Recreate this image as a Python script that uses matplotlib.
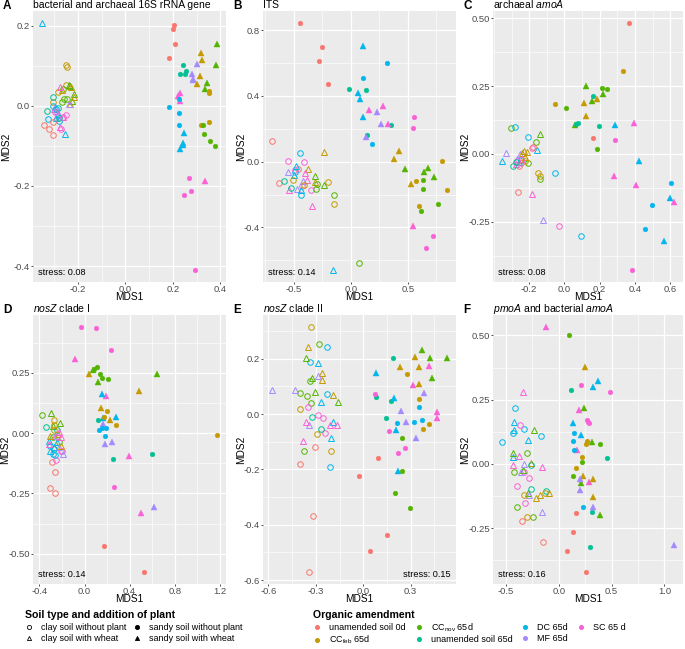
import matplotlib
matplotlib.use("Agg")
import matplotlib.pyplot as plt
from matplotlib.lines import Line2D
from matplotlib.ticker import FixedLocator, AutoMinorLocator, FormatStrFormatter

plt.rcParams['font.family'] = ['Liberation Sans', 'DejaVu Sans']
plt.rcParams['mathtext.fontset'] = 'custom'
plt.rcParams['mathtext.rm'] = 'Liberation Sans'
plt.rcParams['mathtext.it'] = 'Liberation Sans:italic'
plt.rcParams['axes.unicode_minus'] = False

# ---- data ----
# group = (treatment, soil/plant); treatment codes: U0, FEB, NOV, U65, DC, MF, SC
# soil codes: co clay no plant, ct clay wheat, sc sandy no plant, st sandy wheat
A_groups = [("U0", "sc"), ("U65", "sc"), ("NOV", "st"), ("FEB", "st"), ("MF", "st"), ("FEB", "sc"),
            ("NOV", "sc"), ("SC", "st"), ("DC", "sc"), ("DC", "st"), ("SC", "sc"),
            ("DC", "ct"), ("FEB", "co"), ("NOV", "co"), ("NOV", "ct"), ("FEB", "ct"), ("SC", "ct"),
            ("MF", "ct"), ("U65", "co"), ("DC", "co"), ("U0", "co"), ("SC", "co")]
A_mds1 = [[0.204, 0.200, 0.211, 0.185], [0.241, 0.230, 0.251, 0.256], [0.387, 0.380, 0.342, 0.335],
          [0.318, 0.324, 0.314, 0.301], [0.279, 0.285, 0.301, 0.287], [0.351, 0.351, 0.351, 0.317],
          [0.327, 0.331, 0.355, 0.377], [0.232, 0.223, 0.232, 0.335], [0.183, 0.224, 0.224, 0.224],
          [0.245, 0.241, 0.244, 0.232], [0.268, 0.275, 0.248, 0.293],
          [-0.352, -0.254, -0.290, -0.285], [-0.252, -0.246, -0.282, -0.252, -0.303],
          [-0.261, -0.258, -0.246, -0.266], [-0.237, -0.215, -0.223, -0.234], [-0.268, -0.230, -0.218, -0.235],
          [-0.275, -0.261, -0.275, -0.300], [-0.296, -0.289, -0.239, -0.287], [-0.331, -0.282, -0.279, -0.303],
          [-0.327, -0.280, -0.303, -0.293], [-0.341, -0.323, -0.306, -0.303], [-0.296, -0.249, -0.272, -0.261]]
A_mds2 = [[0.203, 0.193, 0.154, 0.120], [0.103, 0.079, 0.079, 0.088], [0.154, 0.103, 0.057, 0.041],
          [0.132, 0.115, 0.075, 0.054], [0.079, 0.065, 0.105, 0.068], [0.038, 0.032, -0.041, -0.048],
          [-0.048, -0.071, -0.088, -0.101], [0.033, 0.024, 0.011, -0.188], [-0.002, 0.018, -0.018, -0.049],
          [-0.068, -0.092, -0.098, -0.108], [-0.179, -0.213, -0.222, -0.409],
          [0.206, -0.071, -0.030, -0.020], [0.103, 0.096, 0.034, 0.051, 0.009],
          [0.043, 0.018, 0.016, 0.009], [0.053, 0.030, 0.011, 0.049], [0.040, 0.047, 0.023, 0.005],
          [0.047, -0.027, -0.054, -0.008], [-0.003, -0.012, 0.005, -0.024], [-0.013, -0.006, -0.031, 0.022],
          [-0.033, -0.037, -0.001, -0.009], [-0.049, -0.059, -0.074, -0.041], [-0.016, -0.024, -0.059, -0.028]]

B_groups = [("U0", "sc"), ("DC", "st"), ("DC", "sc"), ("U65", "sc"), ("SC", "st"), ("MF", "st"),
            ("SC", "sc"), ("FEB", "st"), ("FEB", "sc"), ("NOV", "st"), ("NOV", "sc"),
            ("U0", "co"), ("FEB", "ct"), ("DC", "co"), ("SC", "co"), ("MF", "ct"), ("DC", "ct"),
            ("SC", "ct"), ("FEB", "co"), ("NOV", "ct"), ("NOV", "co"), ("U65", "co")]
B_mds1 = [[-0.441, -0.253, -0.276, -0.197], [0.106, 0.065, 0.082, 0.103], [0.318, 0.109, 0.185],
          [-0.012, 0.135, 0.350, 0.141], [0.162, 0.285, 0.324, 0.544], [0.226, 0.262, 0.132],
          [0.556, 0.544, 0.718, 0.659], [0.421, 0.374, 0.529], [0.797, 0.844, 0.574, 0.597],
          [0.471, 0.679, 0.638, 0.729], [0.635, 0.629, 0.618, 0.765],
          [-0.691, -0.632, -0.462], [-0.235, -0.374, -0.309], [-0.447, -0.491, -0.432],
          [-0.550, -0.409, -0.347, -0.485, -0.424], [-0.553, -0.421, -0.468], [-0.482, -0.497, -0.432, -0.156],
          [-0.400, -0.541, -0.335, -0.382], [-0.412, -0.203, -0.147, -0.506], [-0.315, -0.238],
          [-0.294, -0.300, -0.147, 0.071], [-0.582, -0.521]]
B_mds2 = [[0.842, 0.695, 0.613, 0.472], [0.704, 0.418, 0.384, 0.273], [0.603, 0.509, 0.105],
          [0.444, 0.434, 0.221, 0.163], [0.314, 0.336, 0.229, -0.390], [0.304, 0.229, 0.153],
          [0.271, 0.207, -0.450, -0.523], [0.066, 0.016, -0.133], [0.002, -0.173, -0.119, -0.269],
          [-0.044, -0.036, -0.062, -0.092], [-0.109, -0.169, -0.300, -0.257],
          [0.125, -0.131, -0.044], [0.062, -0.042, -0.121], [0.054, -0.062, -0.205],
          [0.004, 0.000, -0.173, -0.048, -0.149], [-0.060, -0.115, -0.169], [-0.024, -0.082, -0.175, -0.657],
          [-0.070, -0.171, -0.269, -0.109], [-0.143, -0.123, -0.257, -0.109], [-0.088, -0.141],
          [-0.135, -0.165, -0.201, -0.617], [-0.115, -0.159]]

C_groups = [("U0", "sc"), ("FEB", "sc"), ("NOV", "st"), ("NOV", "sc"), ("U65", "sc"), ("FEB", "st"),
            ("DC", "st"), ("SC", "st"), ("SC", "sc"), ("DC", "sc"),
            ("NOV", "co"), ("DC", "co"), ("NOV", "ct"), ("MF", "ct"), ("DC", "ct"), ("SC", "co"),
            ("U0", "co"), ("FEB", "ct"), ("SC", "ct"), ("U65", "co"), ("FEB", "co")]
C_mds1 = [[0.366, 0.164], [0.333, -0.055], [0.120, 0.221, 0.154, 0.061], [0.211, 0.244, 0.011, 0.183],
          [0.164, 0.078, 0.194, 0.065], [0.187, 0.110, 0.120], [0.284, 0.425, 0.596, 0.562],
          [0.394, 0.280, 0.406, 0.623], [0.284, 0.385], [0.604, 0.497, 0.457],
          [-0.301, -0.162, -0.206, -0.141], [-0.278, -0.204, -0.248, -0.051, 0.091], [-0.141],
          [-0.333, -0.251, -0.270, -0.122], [-0.356, -0.154, -0.257], [-0.185, -0.267, -0.248, -0.030],
          [-0.179, -0.257, -0.261], [-0.229, -0.210, -0.225, -0.238], [-0.276, -0.238, -0.185],
          [-0.291, -0.276], [-0.223, -0.152, -0.141]]
C_mds2 = [[0.482, 0.059], [0.306, 0.183], [0.250, 0.221, 0.196, 0.108], [0.244, 0.238, 0.169, 0.017],
          [0.215, 0.114, 0.102, 0.110], [0.204, 0.187, 0.140], [0.107, -0.027, -0.161, -0.321],
          [0.115, -0.081, -0.114, -0.177], [0.053, -0.427], [-0.108, -0.189, -0.276],
          [0.094, 0.044, -0.034, -0.094], [0.101, 0.064, -0.022, -0.069, -0.302], [0.072],
          [0.004, 0.000, -0.018, -0.243], [-0.025, 0.015, -0.031], [0.023, -0.025, -0.034, -0.265],
          [0.027, -0.043, -0.141], [0.012, 0.006, -0.012, 0.002], [-0.037, -0.018, -0.147],
          [-0.045, -0.031], [-0.027, -0.071, -0.082]]

D_groups = [("SC", "sc"), ("SC", "st"), ("NOV", "sc"), ("NOV", "st"), ("FEB", "st"), ("DC", "st"),
            ("FEB", "sc"), ("U65", "sc"), ("MF", "st"), ("DC", "sc"), ("U0", "sc"),
            ("NOV", "co"), ("NOV", "ct"), ("U65", "co"), ("FEB", "co"), ("U0", "co"), ("SC", "co"),
            ("DC", "ct"), ("DC", "co"), ("MF", "ct"), ("FEB", "ct"), ("SC", "ct")]
D_mds1 = [[-0.030, 0.106, 0.236, 0.264], [-0.082, 0.194, 0.394, 0.497], [0.109, 0.136, 0.152, 0.206, 0.085],
          [0.076, 0.115, 0.639], [0.036, 0.482, 0.145, 0.230], [0.158, 0.161, 0.279],
          [0.197, 0.170, 0.276, 1.176], [0.115, 0.255, 0.597], [0.161, 0.182, 0.242, 0.618],
          [0.124, 0.158, 0.191, 0.185], [0.176, 0.530],
          [-0.379, -0.279, -0.227], [-0.294, -0.279, -0.218], [-0.339, -0.273, -0.242], [-0.267, -0.273, -0.273],
          [-0.288, -0.264, -0.309, -0.264], [-0.252, -0.212, -0.197, -0.242], [-0.318, -0.303, -0.273, -0.242],
          [-0.279, -0.303, -0.258], [-0.227, -0.188, -0.258], [-0.236, -0.212, -0.303], [-0.312, -0.227, -0.206]]
D_mds2 = [[0.439, 0.434, 0.343, -0.222], [0.309, 0.155, -0.093, -0.332], [0.275, 0.247, 0.229, 0.226, 0.264],
          [0.261, 0.213, 0.243], [0.247, 0.175, 0.105, 0.055], [0.162, 0.061, 0.068],
          [0.093, 0.068, 0.034, -0.007], [0.054, -0.106, -0.088], [0.038, -0.045, -0.035, -0.306],
          [0.011, 0.020, 0.020, -0.011], [-0.470, -0.575],
          [0.076, -0.017, -0.038], [0.085, 0.028, 0.040], [0.024, -0.066, 0.011], [0.056, 0.032, 0.011],
          [-0.119, -0.162, -0.229, -0.247], [-0.113, -0.076, -0.073, -0.017], [-0.031, -0.073, -0.059, -0.038],
          [-0.088, -0.052, -0.092], [-0.059, -0.085, -0.010], [-0.003, -0.052, -0.014], [-0.045, 0.004, -0.017]]

E_groups = [("FEB", "co"), ("NOV", "co"), ("DC", "co"), ("FEB", "ct"), ("NOV", "ct"), ("DC", "ct"),
            ("MF", "ct"), ("SC", "co"), ("U65", "co"), ("SC", "ct"), ("U0", "co"),
            ("U65", "sc"), ("FEB", "st"), ("NOV", "st"), ("SC", "st"), ("FEB", "sc"), ("DC", "st"),
            ("MF", "st"), ("SC", "sc"), ("DC", "sc"), ("NOV", "sc"), ("U0", "sc")]
E_mds1 = [[-0.328, -0.400, -0.291, -0.206], [-0.283, -0.338, -0.400, -0.353, -0.328, -0.377],
          [-0.230, -0.334, -0.230, -0.211], [-0.347, -0.264, -0.262, -0.194], [-0.362, -0.326, -0.306, -0.157],
          [-0.289, -0.268, -0.189, -0.204], [-0.287, -0.579, -0.434, -0.343], [-0.347, -0.289, -0.257, -0.245],
          [-0.323, -0.266], [-0.362, -0.211, -0.168, -0.379], [-0.306, -0.402, -0.317, -0.344],
          [0.189, 0.083, 0.177, 0.145], [0.330, 0.232, 0.353, 0.353], [0.372, 0.426, 0.532, 0.438],
          [0.419, 0.315, 0.466, 0.466], [0.277, 0.351, 0.417, 0.381], [0.079, 0.196, 0.209, 0.223],
          [0.385, 0.240, 0.274, 0.334], [0.077, 0.164, 0.262, 0.221], [0.351, 0.217, 0.319, 0.370],
          [0.243, 0.243, 0.204, 0.298], [0.091, -0.026, 0.149, 0.043]]
E_mds2 = [[0.314, 0.018, -0.071, -0.133], [0.255, 0.120, 0.075, 0.067, 0.039, -0.133],
          [0.244, 0.188, 0.071, -0.190], [0.242, 0.150, 0.124, 0.070], [0.204, 0.131, 0.081, 0.042],
          [0.185, 0.042, -0.029, -0.087], [0.138, 0.087, 0.088, -0.040], [0.027, -0.002, -0.014, -0.067],
          [-0.012, -0.055], [-0.030, -0.038, -0.038, -0.099], [-0.120, -0.180, -0.370, -0.570],
          [0.201, 0.060, 0.046, -0.015], [0.207, 0.170, 0.170, 0.108], [0.231, 0.204, 0.204, 0.129],
          [0.174, 0.105, 0.007, -0.014], [0.144, 0.056, -0.035, -0.054], [0.149, 0.058, -0.056, -0.204],
          [0.076, 0.011, -0.027, -0.087], [0.073, -0.061, -0.123, -0.139], [0.025, -0.031, -0.029, -0.023],
          [-0.087, -0.207, -0.287, -0.338], [-0.157, -0.224, -0.436, -0.496]]

F_groups = [("SC", "st"), ("NOV", "sc"), ("FEB", "st"), ("DC", "st"), ("SC", "sc"), ("U65", "sc"),
            ("NOV", "st"), ("DC", "sc"), ("FEB", "sc"), ("MF", "st"), ("U0", "sc"),
            ("DC", "co"), ("SC", "ct"), ("DC", "ct"), ("SC", "co"), ("NOV", "ct"), ("NOV", "co"),
            ("MF", "ct"), ("FEB", "ct"), ("U65", "co"), ("FEB", "co"), ("U0", "co")]
F_mds1 = [[-0.122, 0.191, 0.175, 0.284], [0.100, 0.388, 0.222, 0.131], [0.247, 0.231, 0.328, 0.322],
          [0.372, 0.325, 0.131, 0.206], [0.213, 0.481, 0.266, 0.284, 0.275], [0.119, 0.453, 0.316, 0.291],
          [0.238, 0.316, 0.213, 0.394], [0.144, 0.138, 0.144, 0.231], [0.269, 0.253, 0.219, 0.163],
          [0.203, 0.203, 0.322, 1.094], [0.166, 0.131, 0.081, 0.260],
          [-0.541, -0.416, -0.434, -0.334, -0.166], [-0.338, -0.375, -0.434, -0.163],
          [-0.428, -0.422, -0.294, -0.434], [-0.363, -0.328, -0.284, -0.394, -0.319],
          [-0.234, -0.434, -0.341, -0.291], [-0.303, -0.425, -0.394, -0.244], [-0.334, -0.353, -0.284, -0.163],
          [-0.263, -0.213, -0.178, -0.088], [-0.263, -0.259, -0.125], [-0.328, -0.131, -0.303], [-0.350, -0.150]]
F_mds2 = [[0.532, 0.209, 0.056, -0.069], [0.500, 0.078, 0.006, -0.046], [0.377, -0.049, -0.059, -0.128],
          [0.321, 0.300, 0.158, 0.112], [0.309, 0.278, 0.169, 0.159, 0.164], [0.288, 0.022, -0.187, -0.324],
          [0.218, 0.086, -0.073, -0.200], [0.119, 0.091, 0.056, -0.169], [0.090, 0.076, 0.026, -0.017],
          [-0.059, -0.103, -0.169, -0.315], [-0.192, -0.264, -0.340, -0.420],
          [0.085, 0.217, 0.119, 0.135, 0.108], [0.278, 0.032, -0.004, -0.014],
          [0.163, 0.132, 0.092, 0.026], [0.151, -0.032, -0.055, -0.085, -0.151],
          [0.132, 0.041, -0.022, -0.115], [0.041, -0.032, -0.167, -0.206], [0.000, -0.033, -0.123, -0.187],
          [0.005, -0.133, -0.122, -0.112], [-0.004, -0.099, -0.104], [-0.121, -0.115, -0.206], [-0.223, -0.303]]

stress = {"A": "0.08", "B": "0.14", "C": "0.08", "D": "0.14", "E": "0.15", "F": "0.16"}

treat_codes = ["U0", "FEB", "NOV", "U65", "DC", "MF", "SC"]
treat_labels = ["unamended soil 0d", r"CC$_{\mathrm{feb}}$ 65d", r"CC$_{\mathrm{nov}}$ 65d",
                "unamended soil 65d", "DC 65d", "MF 65d", "SC 65 d"]
soil_codes = ["co", "ct", "sc", "st"]
soil_labels = ["clay soil without plant", "clay soil with wheat",
               "sandy soil without plant", "sandy soil with wheat"]

# ---- styles ----
colors = {"U0": "#F8766D", "FEB": "#C49A00", "NOV": "#53B400", "U65": "#00C094",
          "DC": "#00B6EB", "MF": "#A58AFF", "SC": "#FB61D7"}
shapes = {"co": ("o", False), "ct": ("^", False), "sc": ("o", True), "st": ("^", True)}

W, H = 685, 649
fig = plt.figure(figsize=(W / 100, H / 100), dpi=100)


def fx(px):
    return px / W


def fy(py):
    return 1 - py / H


def draw(letter, title, box, ylab_x, groups, xs, ys, xticks, yticks, xfmt, yfmt, stress_right=False):
    l, t, r, b = box
    ax = fig.add_axes([fx(l), fy(b), (r - l) / W, (b - t) / H])
    ax.set_facecolor("#EBEBEB")
    for (trt, soil), x, y in zip(groups, xs, ys):
        m, filled = shapes[soil]
        ms = 3.4 if m == "o" else 3.9
        if filled:
            ax.plot(x, y, ls="none", marker=m, ms=ms, mfc=colors[trt], mec=colors[trt], mew=0.3, zorder=3)
        else:
            ax.plot(x, y, ls="none", marker=m, ms=ms + 0.6, mfc="none", mec=colors[trt], mew=0.7, zorder=3)
    ax.xaxis.set_major_locator(FixedLocator(xticks))
    ax.yaxis.set_major_locator(FixedLocator(yticks))
    ax.xaxis.set_minor_locator(AutoMinorLocator(2))
    ax.yaxis.set_minor_locator(AutoMinorLocator(2))
    ax.xaxis.set_major_formatter(FormatStrFormatter(xfmt))
    ax.yaxis.set_major_formatter(FormatStrFormatter(yfmt))
    ax.grid(which="major", color="white", lw=0.9)
    ax.grid(which="minor", color="white", lw=0.45)
    ax.set_axisbelow(True)
    for s in ax.spines.values():
        s.set_visible(False)
    ax.tick_params(which="major", length=1.6, width=0.6, color="#333333", labelsize=6.8,
                   labelcolor="#4D4D4D", pad=0.5)
    ax.tick_params(which="minor", length=0)
    ax.set_xlabel("MDS1", fontsize=7.3)
    ax.xaxis.set_label_coords(fx((l + r) / 2), fy(b + 10.5), transform=fig.transFigure)
    ax.set_ylabel("MDS2", fontsize=7.3)
    ax.yaxis.set_label_coords(fx(ylab_x), fy((t + b) / 2), transform=fig.transFigure)
    st = "stress: " + stress[letter]
    if stress_right:
        ax.text(0.97, 0.02, st, transform=ax.transAxes, ha="right", va="bottom", fontsize=6.6)
    else:
        ax.text(0.025, 0.02, st, transform=ax.transAxes, ha="left", va="bottom", fontsize=6.6)
    fig.text(fx(l - 30), fy(t - 2), letter, fontsize=8.5, fontweight="bold", ha="left", va="baseline")
    fig.text(fx(l), fy(t - 2.5), title, fontsize=7.5, ha="left", va="baseline")
    return ax


row1 = (11, 282)
row2 = (315, 584)
draw("A", "bacterial and archaeal 16S rRNA gene", (33, row1[0], 226, row1[1]), 11, A_groups, A_mds1, A_mds2,
     [-0.2, 0.0, 0.2, 0.4], [-0.4, -0.2, 0.0, 0.2], "%.1f", "%.1f")
draw("B", "ITS", (263, row1[0], 456, row1[1]), 246, B_groups, B_mds1, B_mds2,
     [-0.5, 0.0, 0.5], [-0.4, 0.0, 0.4, 0.8], "%.1f", "%.1f")
draw("C", r"archaeal $\mathit{amoA}$", (493, row1[0], 683, row1[1]), 470, C_groups, C_mds1, C_mds2,
     [-0.2, 0.0, 0.2, 0.4, 0.6], [-0.25, 0.0, 0.25, 0.5], "%.1f", "%.2f")
draw("D", r"$\mathit{nosZ}$ clade I", (33, row2[0], 226, row2[1]), 10, D_groups, D_mds1, D_mds2,
     [-0.4, 0.0, 0.4, 0.8, 1.2], [-0.5, -0.25, 0.0, 0.25], "%.1f", "%.2f")
draw("E", r"$\mathit{nosZ}$ clade II", (263, row2[0], 456, row2[1]), 246, E_groups, E_mds1, E_mds2,
     [-0.6, -0.3, 0.0, 0.3, 0.6], [-0.6, -0.4, -0.2, 0.0, 0.2], "%.1f", "%.1f", stress_right=True)
draw("F", r"$\mathit{pmoA}$ and bacterial $\mathit{amoA}$", (493, row2[0], 683, row2[1]), 470, F_groups,
     F_mds1, F_mds2, [-0.5, 0.0, 0.5, 1.0], [-0.25, 0.0, 0.25, 0.5], "%.1f", "%.2f")

# ---- legends ----
shape_handles = []
for code, lab in zip(soil_codes, soil_labels):
    m, filled = shapes[code]
    shape_handles.append(Line2D([], [], ls="none", marker=m, ms=3, color="black",
                                mfc="black" if filled else "none", mew=0.6, label=lab))
leg1 = fig.legend(handles=shape_handles, loc="upper left", bbox_to_anchor=(fx(25), fy(610)), ncol=2,
                  frameon=False, fontsize=6.5, title="Soil type and addition of plant",
                  title_fontproperties={"weight": "bold", "size": 7.6}, alignment="left",
                  handlelength=0.9, handletextpad=0.9, columnspacing=0.7, labelspacing=0.3,
                  borderpad=0, borderaxespad=0)

col_handles = [Line2D([], [], ls="none", marker="o", ms=2.6, mfc=colors[c], mec=colors[c], label=lab)
               for c, lab in zip(treat_codes, treat_labels)]
leg2 = fig.legend(handles=col_handles, loc="upper left", bbox_to_anchor=(fx(313), fy(610)), ncol=4,
                  frameon=False, fontsize=6.5, title="Organic amendment",
                  title_fontproperties={"weight": "bold", "size": 7.6}, alignment="left",
                  handlelength=0.9, handletextpad=0.9, columnspacing=0.95, labelspacing=0.15,
                  borderpad=0, borderaxespad=0)

fig.savefig("out.png", dpi=100)
